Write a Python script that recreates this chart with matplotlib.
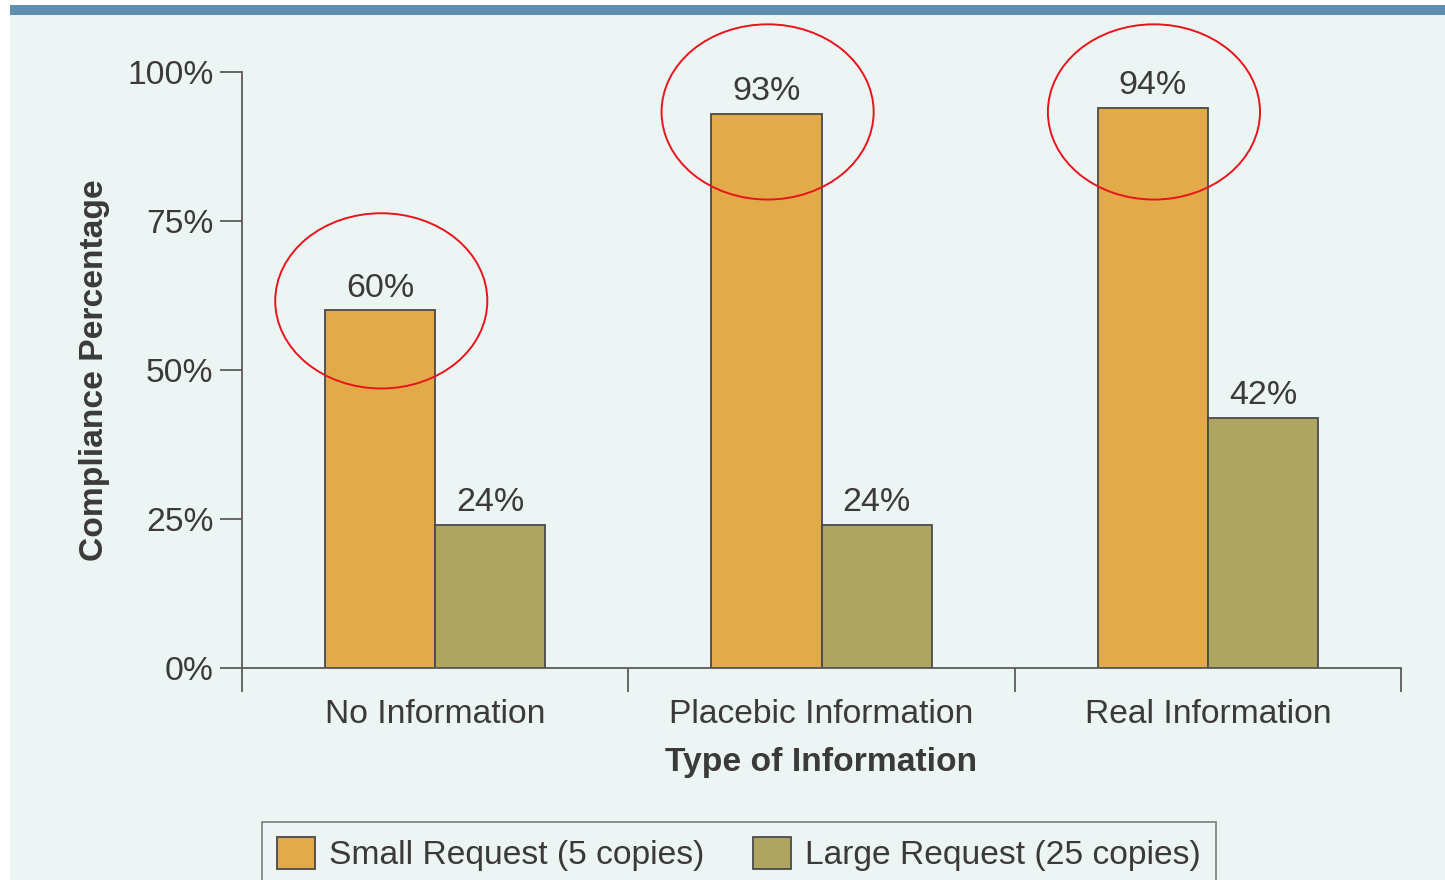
import numpy as np
import matplotlib
matplotlib.use("Agg")
import matplotlib.pyplot as plt
from matplotlib.patches import Rectangle, Ellipse

plt.rcParams['font.family'] = ['Liberation Sans', 'DejaVu Sans']

categories = ['No Information', 'Placebic Information', 'Real Information']
small_request = [60, 93, 94]
large_request = [24, 24, 42]
series_names = ['Small Request (5 copies)', 'Large Request (25 copies)']
y_ticks = [0, 25, 50, 75, 100]
# hand-drawn red circles (centre height in %), one per small-request bar
circle_y = [61.6, 93.3, 93.3]

c_small = '#e3aa4a'
c_large = '#aea660'
c_text = '#3a3a3a'
c_axis = '#5a5a5a'
bg = '#ecf5f3'
fs = 24.2

fig = plt.figure(figsize=(14.45, 8.8), dpi=100)
fig.patch.set_facecolor('white')
# panel background and top strip
fig.patches.append(Rectangle((10/1445, 0), 1, 1 - 15/880, transform=fig.transFigure,
                             facecolor=bg, edgecolor='none', zorder=-10))
fig.patches.append(Rectangle((10/1445, 1 - 15/880), 1, 10/880, transform=fig.transFigure,
                             facecolor='#5e8fae', edgecolor='none', zorder=-10))

ax = fig.add_axes([242/1445, 1 - 668/880, (1401 - 242)/1445, 596/880])
ax.set_facecolor('none')

x = np.arange(len(categories)) + 0.5
w = 0.285
ax.bar(x - w/2, small_request, w, color=c_small, edgecolor='#4a4a4a', linewidth=1.3,
       label=series_names[0], zorder=2)
ax.bar(x + w/2, large_request, w, color=c_large, edgecolor='#4a4a4a', linewidth=1.3,
       label=series_names[1], zorder=2)

for xi, v in zip(x - w/2, small_request):
    ax.annotate(f'{v}%', (xi, v), xytext=(0, 10), textcoords='offset points',
                ha='center', va='baseline', fontsize=24.5, color=c_text)
for xi, v in zip(x + w/2, large_request):
    ax.annotate(f'{v}%', (xi, v), xytext=(0, 10), textcoords='offset points',
                ha='center', va='baseline', fontsize=24.5, color=c_text)

for xi, cy in zip(x - w/2, circle_y):
    ax.add_patch(Ellipse((xi + 0.003, cy), 0.549, 29.4, facecolor='none',
                         edgecolor='#e8141c', linewidth=1.4, clip_on=False, zorder=3))

ax.set_xlim(0, 3)
ax.set_ylim(0, 100)
ax.set_yticks(y_ticks)
ax.set_yticklabels([f'{t}%' for t in y_ticks])
ax.set_xticks([0, 1, 2, 3])
ax.set_xticklabels([])
ax.set_xticks(x, minor=True)
ax.set_xticklabels(categories, minor=True)

ax.tick_params(axis='y', direction='out', length=16, width=1.3, color=c_axis,
               labelsize=fs, labelcolor=c_text, pad=4.5)
ax.tick_params(axis='x', which='major', direction='out', length=17, width=1.3, color=c_axis)
ax.tick_params(axis='x', which='minor', length=0, labelsize=fs, labelcolor=c_text, pad=22)

for s in ['top', 'right']:
    ax.spines[s].set_visible(False)
for s in ['left', 'bottom']:
    ax.spines[s].set_color(c_axis)
    ax.spines[s].set_linewidth(1.3)

ax.set_xlabel('Type of Information', fontsize=fs, fontweight='bold', color=c_text, va='center')
ax.xaxis.set_label_coords(0.5, -0.158)
ax.set_ylabel('Compliance Percentage', fontsize=fs, fontweight='bold', color=c_text, va='center')
ax.yaxis.set_label_coords(-0.127, 0.5)

leg = ax.legend(loc='upper center', bbox_to_anchor=(739/1445, 1 - 822/880),
                bbox_transform=fig.transFigure, ncol=2, fontsize=fs, frameon=True,
                fancybox=False, handlelength=1.13, handleheight=1.07, handletextpad=0.42,
                columnspacing=1.45, borderpad=0.45, borderaxespad=0)
leg.get_frame().set_facecolor(bg)
leg.get_frame().set_edgecolor('#6a6a6a')
leg.get_frame().set_linewidth(1.3)
for t in leg.get_texts():
    t.set_color(c_text)

fig.savefig('out.png', dpi=100, facecolor=fig.get_facecolor())
